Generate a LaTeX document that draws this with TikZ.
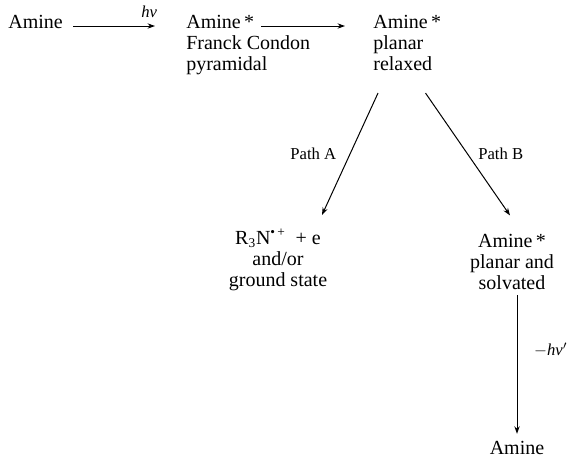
\documentclass[tikz,border=0pt]{standalone}
\usepackage{fontspec}
\setmainfont{Liberation Serif}
\usetikzlibrary{positioning,arrows.meta}

\tikzset{
  spec/.style={inner sep=0pt,font=\fontsize{12}{12.6}\selectfont},
  note/.style={spec,align=left},
  rxn/.style={-{Stealth[length=4.5pt,width=3.2pt]},line width=0.6pt},
  lab/.style={inner sep=0pt,font=\fontsize{10}{12}\selectfont},
}

\begin{document}
\begin{tikzpicture}[x=0.6pt,y=-0.6pt]
\useasboundingbox (0,0) rectangle (567,458);
% ground state and excited states
\node[spec,anchor=base west] (amine) at (8,28) {Amine};
\node[spec,anchor=base west] (fc) at (186,28) {Amine\,*};
\node[note,anchor=north west] (fcnote) at ([yshift=-4.4pt]fc.base west) {Franck Condon\\pyramidal};
\node[spec,anchor=base west] (rx) at (373,28) {Amine\,*};
\node[note,anchor=north west] (rxnote) at ([yshift=-4.4pt]rx.base west) {planar\\relaxed};
% the two paths
\node[spec,align=center,anchor=north] (ion) at (278,229) {R\textsubscript{3}N\textsuperscript{\textbullet\,+}\ \ + e\\and/or\\ground state};
\node[spec,anchor=base] (sv) at (512,247) {Amine\,*};
\node[spec,align=center,anchor=north] (svnote) at ([yshift=-4.4pt]sv.base) {planar and\\solvated};
\node[spec,anchor=base] (amine2) at (517,454) {Amine};

\draw[rxn,shorten <=6pt,shorten >=18.6pt] ([yshift=1.2pt]amine.base east) -- ([yshift=1.2pt]amine.base -| fc.west)
  node[lab,pos=0.7,above=4.5pt]{\textit{hν}};
\draw[rxn,shorten <=4pt,shorten >=16.8pt] ([yshift=1.2pt]fc.base east) -- ([yshift=1.2pt]fc.base -| rx.west);
\draw[rxn] ([shift={(5,22)}]rxnote.south west) -- ([shift={(44,-14)}]ion.north)
  node[lab,midway,left=8pt]{Path A};
\draw[rxn] ([shift={(-7,22)}]rxnote.south east) -- ([shift={(-2,-18)}]sv.north)
  node[lab,midway,right=6pt]{Path B};
\draw[rxn,shorten <=3pt,shorten >=4pt] (svnote.south -| amine2.north) -- (amine2.north)
  node[lab,pos=0.4,right=10pt]{$-$\textit{hν}$'$};
\end{tikzpicture}
\end{document}
